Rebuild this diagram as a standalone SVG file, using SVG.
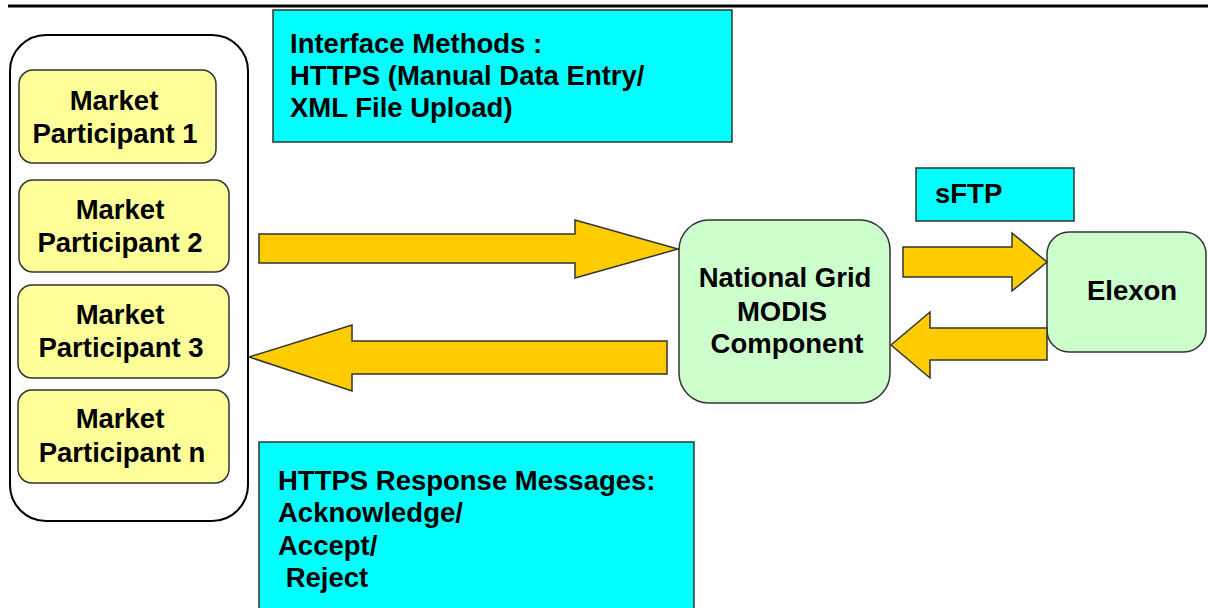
<svg xmlns="http://www.w3.org/2000/svg" width="1208" height="608" viewBox="0 0 1208 608">
<style>
text{font-family:"Liberation Sans",Arial,sans-serif;font-weight:bold;font-size:27.5px;fill:#000}
.c{text-anchor:middle}
.mp{fill:#ffff99;stroke:#333;stroke-width:1.5}
.gr{fill:#ccffcc;stroke:#333;stroke-width:1.5}
.cy{fill:#00ffff;stroke:#333;stroke-width:1.5}
.ar{fill:#ffcc00;stroke:#333;stroke-width:1.5;stroke-linejoin:miter}
</style>
<rect width="1208" height="608" fill="#fff"/>
<line x1="8" y1="6" x2="1208" y2="6" stroke="#000" stroke-width="3"/>
<g id="container">
<rect x="10" y="35" width="238" height="486" rx="36" ry="36" fill="#fff" stroke="#000" stroke-width="2"/>
</g>
<g id="mp1">
<rect class="mp" x="19" y="70" width="197" height="93" rx="14"/>
<text class="c" x="114" y="110">Market</text>
<text class="c" x="115" y="143">Participant 1</text>
</g>
<g id="mp2">
<rect class="mp" x="19" y="180" width="210" height="92" rx="14"/>
<text class="c" x="120" y="219">Market</text>
<text class="c" x="120" y="252">Participant 2</text>
</g>
<g id="mp3">
<rect class="mp" x="18" y="285" width="211" height="93" rx="14"/>
<text class="c" x="120" y="324">Market</text>
<text class="c" x="121" y="357">Participant 3</text>
</g>
<g id="mpn">
<rect class="mp" x="18" y="390" width="211" height="93" rx="14"/>
<text class="c" x="120" y="428">Market</text>
<text class="c" x="122" y="462">Participant n</text>
</g>
<g id="interface">
<rect class="cy" x="273" y="10" width="459" height="132"/>
<text x="290" y="53">Interface Methods :</text>
<text x="290" y="85">HTTPS (Manual Data Entry/</text>
<text x="290" y="117">XML File Upload)</text>
</g>
<g id="response">
<rect class="cy" x="259" y="442" width="435" height="180"/>
<text x="278" y="490">HTTPS Response Messages:</text>
<text x="278" y="522">Acknowledge/</text>
<text x="278" y="555">Accept/</text>
<text x="278" y="587" xml:space="preserve"> Reject</text>
</g>
<g id="sftp">
<rect class="cy" x="916" y="168" width="158" height="53"/>
<text x="935" y="203">sFTP</text>
</g>
<g id="modis">
<rect class="gr" x="679" y="220" width="211" height="183" rx="30"/>
<text class="c" x="785" y="287">National Grid</text>
<text class="c" x="782" y="321">MODIS</text>
<text class="c" x="787" y="353">Component</text>
</g>
<g id="elexon">
<rect class="gr" x="1047" y="232" width="159" height="120" rx="22"/>
<text class="c" x="1132" y="300">Elexon</text>
</g>
<g id="connectors">
<polygon class="ar" points="259,234 575,234 575,220 678,249 575,278 575,263 259,263"/>
<polygon class="ar" points="667,341 352,341 352,325 249,357 352,391 352,374 667,374"/>
<polygon class="ar" points="903,247 1012,247 1012,233 1047,262 1012,291 1012,277 903,277"/>
<polygon class="ar" points="1047,328 930,328 930,312 891,345 930,378 930,360 1047,360"/>
</g>
</svg>
